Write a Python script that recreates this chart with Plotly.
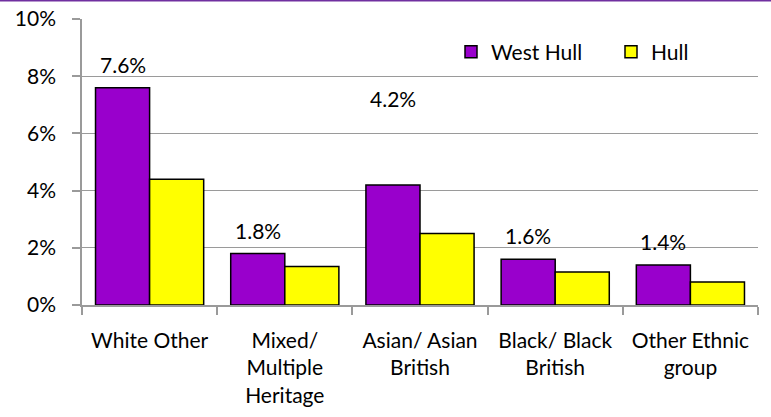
import plotly.graph_objects as go

categories = ["White Other", "Mixed/<br>Multiple<br>Heritage", "Asian/ Asian<br>British",
              "Black/ Black<br>British", "Other Ethnic<br>group"]
west_hull = [7.6, 1.8, 4.2, 1.6, 1.4]
hull = [4.4, 1.35, 2.5, 1.15, 0.8]
label_text = ["7.6%", "1.8%", "4.2%", "1.6%", "1.4%"]
label_shift = [9, 9, 72, 9, 9]
y_ticks = [0, 2, 4, 6, 8, 10]
y_tick_text = ["0%", "2%", "4%", "6%", "8%", "10%"]

FONT = "Lato"
FS = 21
PURPLE = "#9900CC"
YELLOW = "#FFFF00"
GRID = "#9A9A9A"

fig = go.Figure()
fig.add_trace(go.Bar(name="West Hull", x=categories, y=west_hull,
                     marker=dict(color=PURPLE, line=dict(color="black", width=1.5)),
                     offsetgroup=0))
fig.add_trace(go.Bar(name="Hull", x=categories, y=hull,
                     marker=dict(color=YELLOW, line=dict(color="black", width=1.5)),
                     offsetgroup=1))

for i, (v, t, s) in enumerate(zip(west_hull, label_text, label_shift)):
    fig.add_annotation(x=i - 0.2, y=v, xref="x", yref="y", text=t, showarrow=False,
                       yanchor="bottom", yshift=s, font=dict(family=FONT, size=FS, color="black"))

W, H = 771, 417
L, R, T, B = 82, 13, 19, 112
pw, ph = W - L - R, H - T - B
fig.add_shape(type="line", xref="paper", yref="paper",
              x0=-L / pw, x1=1 + R / pw, y0=1 + (T - 0.5) / ph, y1=1 + (T - 0.5) / ph,
              line=dict(color="#7030A0", width=2))

fig.update_layout(
    width=W, height=H,
    margin=dict(l=L, r=R, t=T, b=B, autoexpand=False),
    paper_bgcolor="white", plot_bgcolor="white",
    barmode="group", bargap=0.2, bargroupgap=0,
    font=dict(family=FONT, size=FS, color="black"),
    showlegend=True,
    legend=dict(orientation="h", x=(465 - 14 - L) / pw, y=1 - (52 - T) / ph,
                xanchor="left", yanchor="middle",
                font=dict(family=FONT, size=FS), bgcolor="rgba(0,0,0,0)",
                entrywidth=115, entrywidthmode="pixels", traceorder="normal"),
    xaxis=dict(showgrid=False, showline=True, linecolor=GRID, linewidth=1.5,
               ticks="outside", tickson="boundaries", tickcolor=GRID, ticklen=8, tickwidth=1.5,
               tickfont=dict(family=FONT, size=FS), ticklabelstandoff=16, range=[-0.5, 4.5]),
    yaxis=dict(range=[0, 10], tickvals=y_ticks, ticktext=y_tick_text,
               showgrid=True, gridcolor=GRID, gridwidth=1.2,
               showline=True, linecolor=GRID, linewidth=1.5,
               ticks="outside", tickcolor=GRID, ticklen=8, tickwidth=1.5,
               tickfont=dict(family=FONT, size=FS), ticklabelstandoff=12, zeroline=False),
)

fig.write_html("out.html", config={"displayModeBar": False},
               post_script="document.body.style.margin='0';document.body.style.padding='0';")
